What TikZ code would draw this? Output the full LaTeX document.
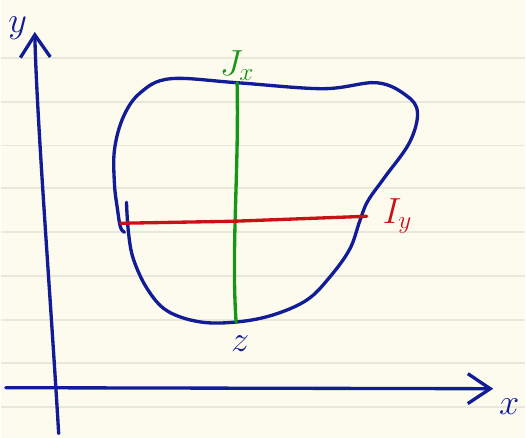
\documentclass[tikz,border=0pt]{standalone}
\usepackage{tikz}
\usetikzlibrary{arrows.meta, positioning}
\definecolor{paper}{RGB}{253,251,238}
\definecolor{rule}{RGB}{233,231,219}
\definecolor{inkblue}{RGB}{18,28,150}
\definecolor{inkgreen}{RGB}{22,150,22}
\definecolor{inkred}{RGB}{200,18,22}

\begin{document}
\begin{tikzpicture}[
    x=0.02cm, y=-0.02cm,
    font=\fontsize{21}{25}\selectfont,
    ink/.style={line width=1.9pt, line cap=round, line join=round},
    axis/.style={ink, draw=inkblue, -{Straight Barb[length=4.5mm, width=6mm, line width=1.9pt]}},
    blob/.style={ink, draw=inkblue},
    jline/.style={ink, draw=inkgreen},
    iline/.style={ink, draw=inkred},
    lbl/.style={inner sep=1pt}
]
% paper and its ruling
\fill[paper] (0,0) rectangle (526,439);
\foreach \yy in {58,102,146,189,233,277,321,364,408}
    \draw[rule, line width=1pt] (0,\yy) -- (526,\yy);

% axes
\coordinate (xstart) at (5,389);
\coordinate (xend) at (494,390);
\coordinate (ystart) at (58,435);
\coordinate (yend) at (34,32);
\draw[axis] (xstart) -- (xend);
\draw[axis] (ystart) .. controls (50,300) and (36,120) .. (yend);
\node[lbl, text=inkblue] (xlabel) at (510,408) {$x$};
\node[lbl, text=inkblue] (ylabel) at (17,28) {$y$};

% section outline
\draw[blob] plot[smooth, tension=0.6] coordinates {
    (126,203) (128,233) (133,260) (147,290) (167,312) (200,323) (237,323)
    (273,316) (307,301) (330,278) (350,250) (360,222) (368,202) (385,178)
    (410,143) (418,113) (407,96) (377,83) (323,89) (237,83) (170,79)
    (140,93) (123,117) (114,150) (114,185) (117,210) (120,228) (124,233)};
\node[lbl, text=inkblue] (zlabel) at (240,345) {$z$};

% green axis
\coordinate (jtop) at (237,83);
\coordinate (jbot) at (236,323);
\draw[jline] (jtop) .. controls (239,170) and (231,250) .. (jbot);
\node[lbl, text=inkgreen, above=0pt of jtop] (jlabel) {$J_x$};

% red axis
\coordinate (ileft) at (120,224);
\coordinate (iright) at (367,217);
\draw[iline] (ileft) -- (233,222) -- (iright);
\node[lbl, text=inkred, right=8pt of iright] (ilabel) {$I_y$};
\end{tikzpicture}
\end{document}
